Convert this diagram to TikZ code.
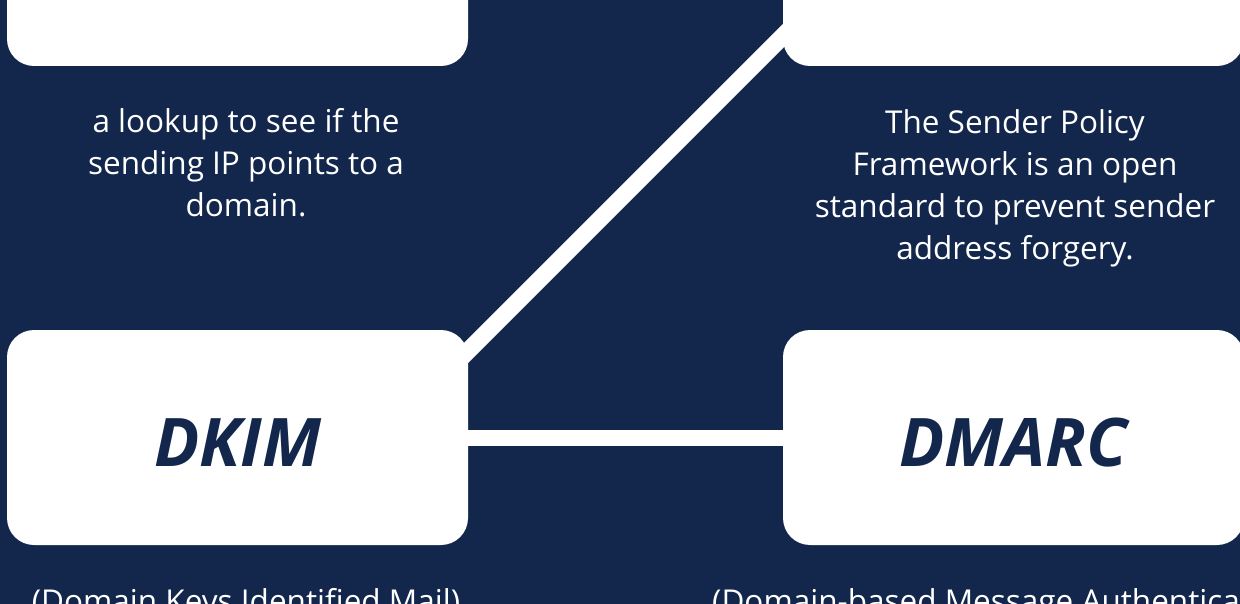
\documentclass[tikz,border=0pt]{standalone}
\usepackage{fontspec}
\setmainfont{Open Sans}
\usetikzlibrary{backgrounds}
\definecolor{navy}{RGB}{19,39,76}
\tikzset{
  whitebox/.style={fill=white, draw=none, rounded corners=27pt, minimum width=461pt, minimum height=215pt, inner sep=0pt, text=navy, text height=57pt, text depth=0pt, font=\fontsize{67}{67}\selectfont\bfseries\itshape},
  desc/.style={text=white, inner sep=0pt, align=center, font=\fontsize{31.5}{42}\selectfont},
  link/.style={white, line width=16pt},
}
\begin{document}
\begin{tikzpicture}[x=1pt, y=-1pt]
\useasboundingbox (0,0) rectangle (1240,604);
\node[whitebox, minimum height=216pt] (rdns) at (237.5,-42) {};
\node[whitebox, minimum height=216pt] (spf) at (1013.5,-42) {};
\node[whitebox] (dkim) at (237.5,437.5) {DKIM};
\node[whitebox] (dmarc) at (1013.5,437.5) {DMARC};
\node[desc, anchor=north] (rdnstext) at (246,108) {a lookup to see if the\\sending IP points to a\\domain.};
\node[desc, anchor=north] (spftext) at (1015,109) {The Sender Policy\\Framework is an open\\standard to prevent sender\\address forgery.};
\node[desc, anchor=base] (dkimtext) at (246,612) {(Domain Keys Identified Mail)};
\node[desc, anchor=base west] (dmarctext) at (712,612) {(Domain-based Message Authentication, Reporting and Conformance)};
\coordinate (d1) at (430,389);
\coordinate (d2) at (810,9);
\begin{scope}[on background layer]
\fill[navy] (0,0) rectangle (1240,604);
\draw[link, line width=17pt] (d1) -- (d2);
\draw[link] (dkim.east) -- (dmarc.west);
\end{scope}
\end{tikzpicture}
\end{document}
